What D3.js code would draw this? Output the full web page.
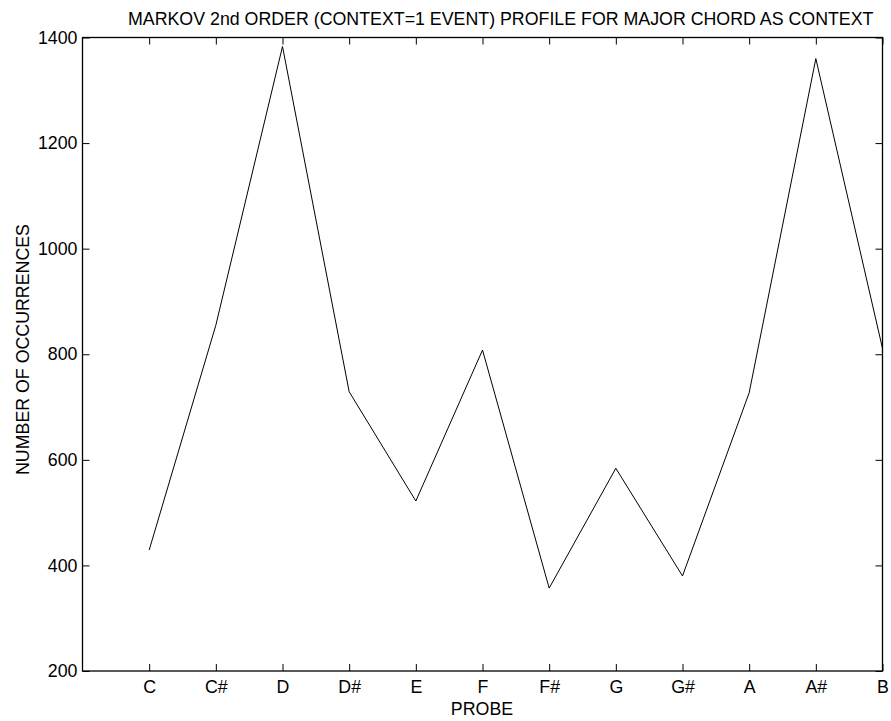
<!DOCTYPE html>
<html>
<head>
<meta charset="utf-8">
<script src="https://cdn.jsdelivr.net/npm/d3@7"></script>
<style>
  body { margin: 0; background: #fff; }
  svg { display: block; font-family: "Liberation Sans", Arial, sans-serif; }
</style>
</head>
<body>
<div id="chart"></div>
<script>
const probes = ["C", "C#", "D", "D#", "E", "F", "F#", "G", "G#", "A", "A#", "B"];
const occurrences = [429, 855, 1383, 729, 522, 808, 357, 584, 380, 727, 1360, 811];
const yTicks = [200, 400, 600, 800, 1000, 1200, 1400];

const width = 891;
const height = 721;
const margin = { top: 37.5, right: 8.5, bottom: 50, left: 82.5 };

const svg = d3.select("#chart")
  .append("svg")
  .attr("width", width)
  .attr("height", height);

const x = d3.scaleLinear()
  .domain([0, probes.length])
  .range([margin.left, width - margin.right]);

const y = d3.scaleLinear()
  .domain([200, 1400])
  .range([height - margin.bottom, margin.top]);

const tickLen = 7;
const fontSize = 17.8;

// box
svg.append("rect")
  .attr("x", x(0))
  .attr("y", y(1400))
  .attr("width", x(12) - x(0))
  .attr("height", y(200) - y(1400))
  .attr("fill", "none")
  .attr("stroke", "#000")
  .attr("stroke-width", 1.3);

// x axis, ticks inward, mirrored on top
const xAxis = d3.axisBottom(x)
  .tickValues(d3.range(1, probes.length + 1))
  .tickFormat((d) => probes[d - 1])
  .tickSizeInner(-tickLen)
  .tickSizeOuter(0)
  .tickPadding(9);

const gx = svg.append("g")
  .attr("transform", `translate(0,${y(200)})`)
  .call(xAxis);
gx.select(".domain").remove();

const gxTop = svg.append("g")
  .attr("transform", `translate(0,${y(1400)})`)
  .call(d3.axisTop(x).tickValues(d3.range(1, probes.length + 1)).tickFormat("").tickSizeInner(-tickLen).tickSizeOuter(0));
gxTop.select(".domain").remove();

// y axis
const yAxis = d3.axisLeft(y)
  .tickValues(yTicks)
  .tickFormat(d3.format("d"))
  .tickSizeInner(-tickLen)
  .tickSizeOuter(0)
  .tickPadding(5);

const gy = svg.append("g")
  .attr("transform", `translate(${x(0)},0)`)
  .call(yAxis);
gy.select(".domain").remove();

const gyRight = svg.append("g")
  .attr("transform", `translate(${x(12)},0)`)
  .call(d3.axisRight(y).tickValues(yTicks).tickFormat("").tickSizeInner(-tickLen).tickSizeOuter(0));
gyRight.select(".domain").remove();

svg.selectAll(".tick line").attr("stroke", "#000").attr("stroke-width", 1);
svg.selectAll(".tick text")
  .attr("fill", "#000")
  .style("font-size", fontSize + "px")
  .style("font-family", "'Liberation Sans', Arial, sans-serif");

// data line
const line = d3.line()
  .x((d, i) => x(i + 1))
  .y((d) => y(d));

svg.append("path")
  .datum(occurrences)
  .attr("d", line)
  .attr("fill", "none")
  .attr("stroke", "#000")
  .attr("stroke-width", 1);

// labels
svg.append("text")
  .attr("x", 128)
  .attr("y", 24.5)
  .attr("font-size", fontSize)
  .attr("fill", "#000")
  .text("MARKOV 2nd ORDER (CONTEXT=1 EVENT) PROFILE FOR MAJOR CHORD AS CONTEXT");

svg.append("text")
  .attr("x", 482)
  .attr("y", 715)
  .attr("text-anchor", "middle")
  .attr("font-size", fontSize)
  .attr("fill", "#000")
  .text("PROBE");

svg.append("text")
  .attr("transform", `translate(29,349.5) rotate(-90)`)
  .attr("text-anchor", "middle")
  .attr("font-size", fontSize)
  .attr("fill", "#000")
  .text("NUMBER OF OCCURRENCES");
</script>
</body>
</html>
